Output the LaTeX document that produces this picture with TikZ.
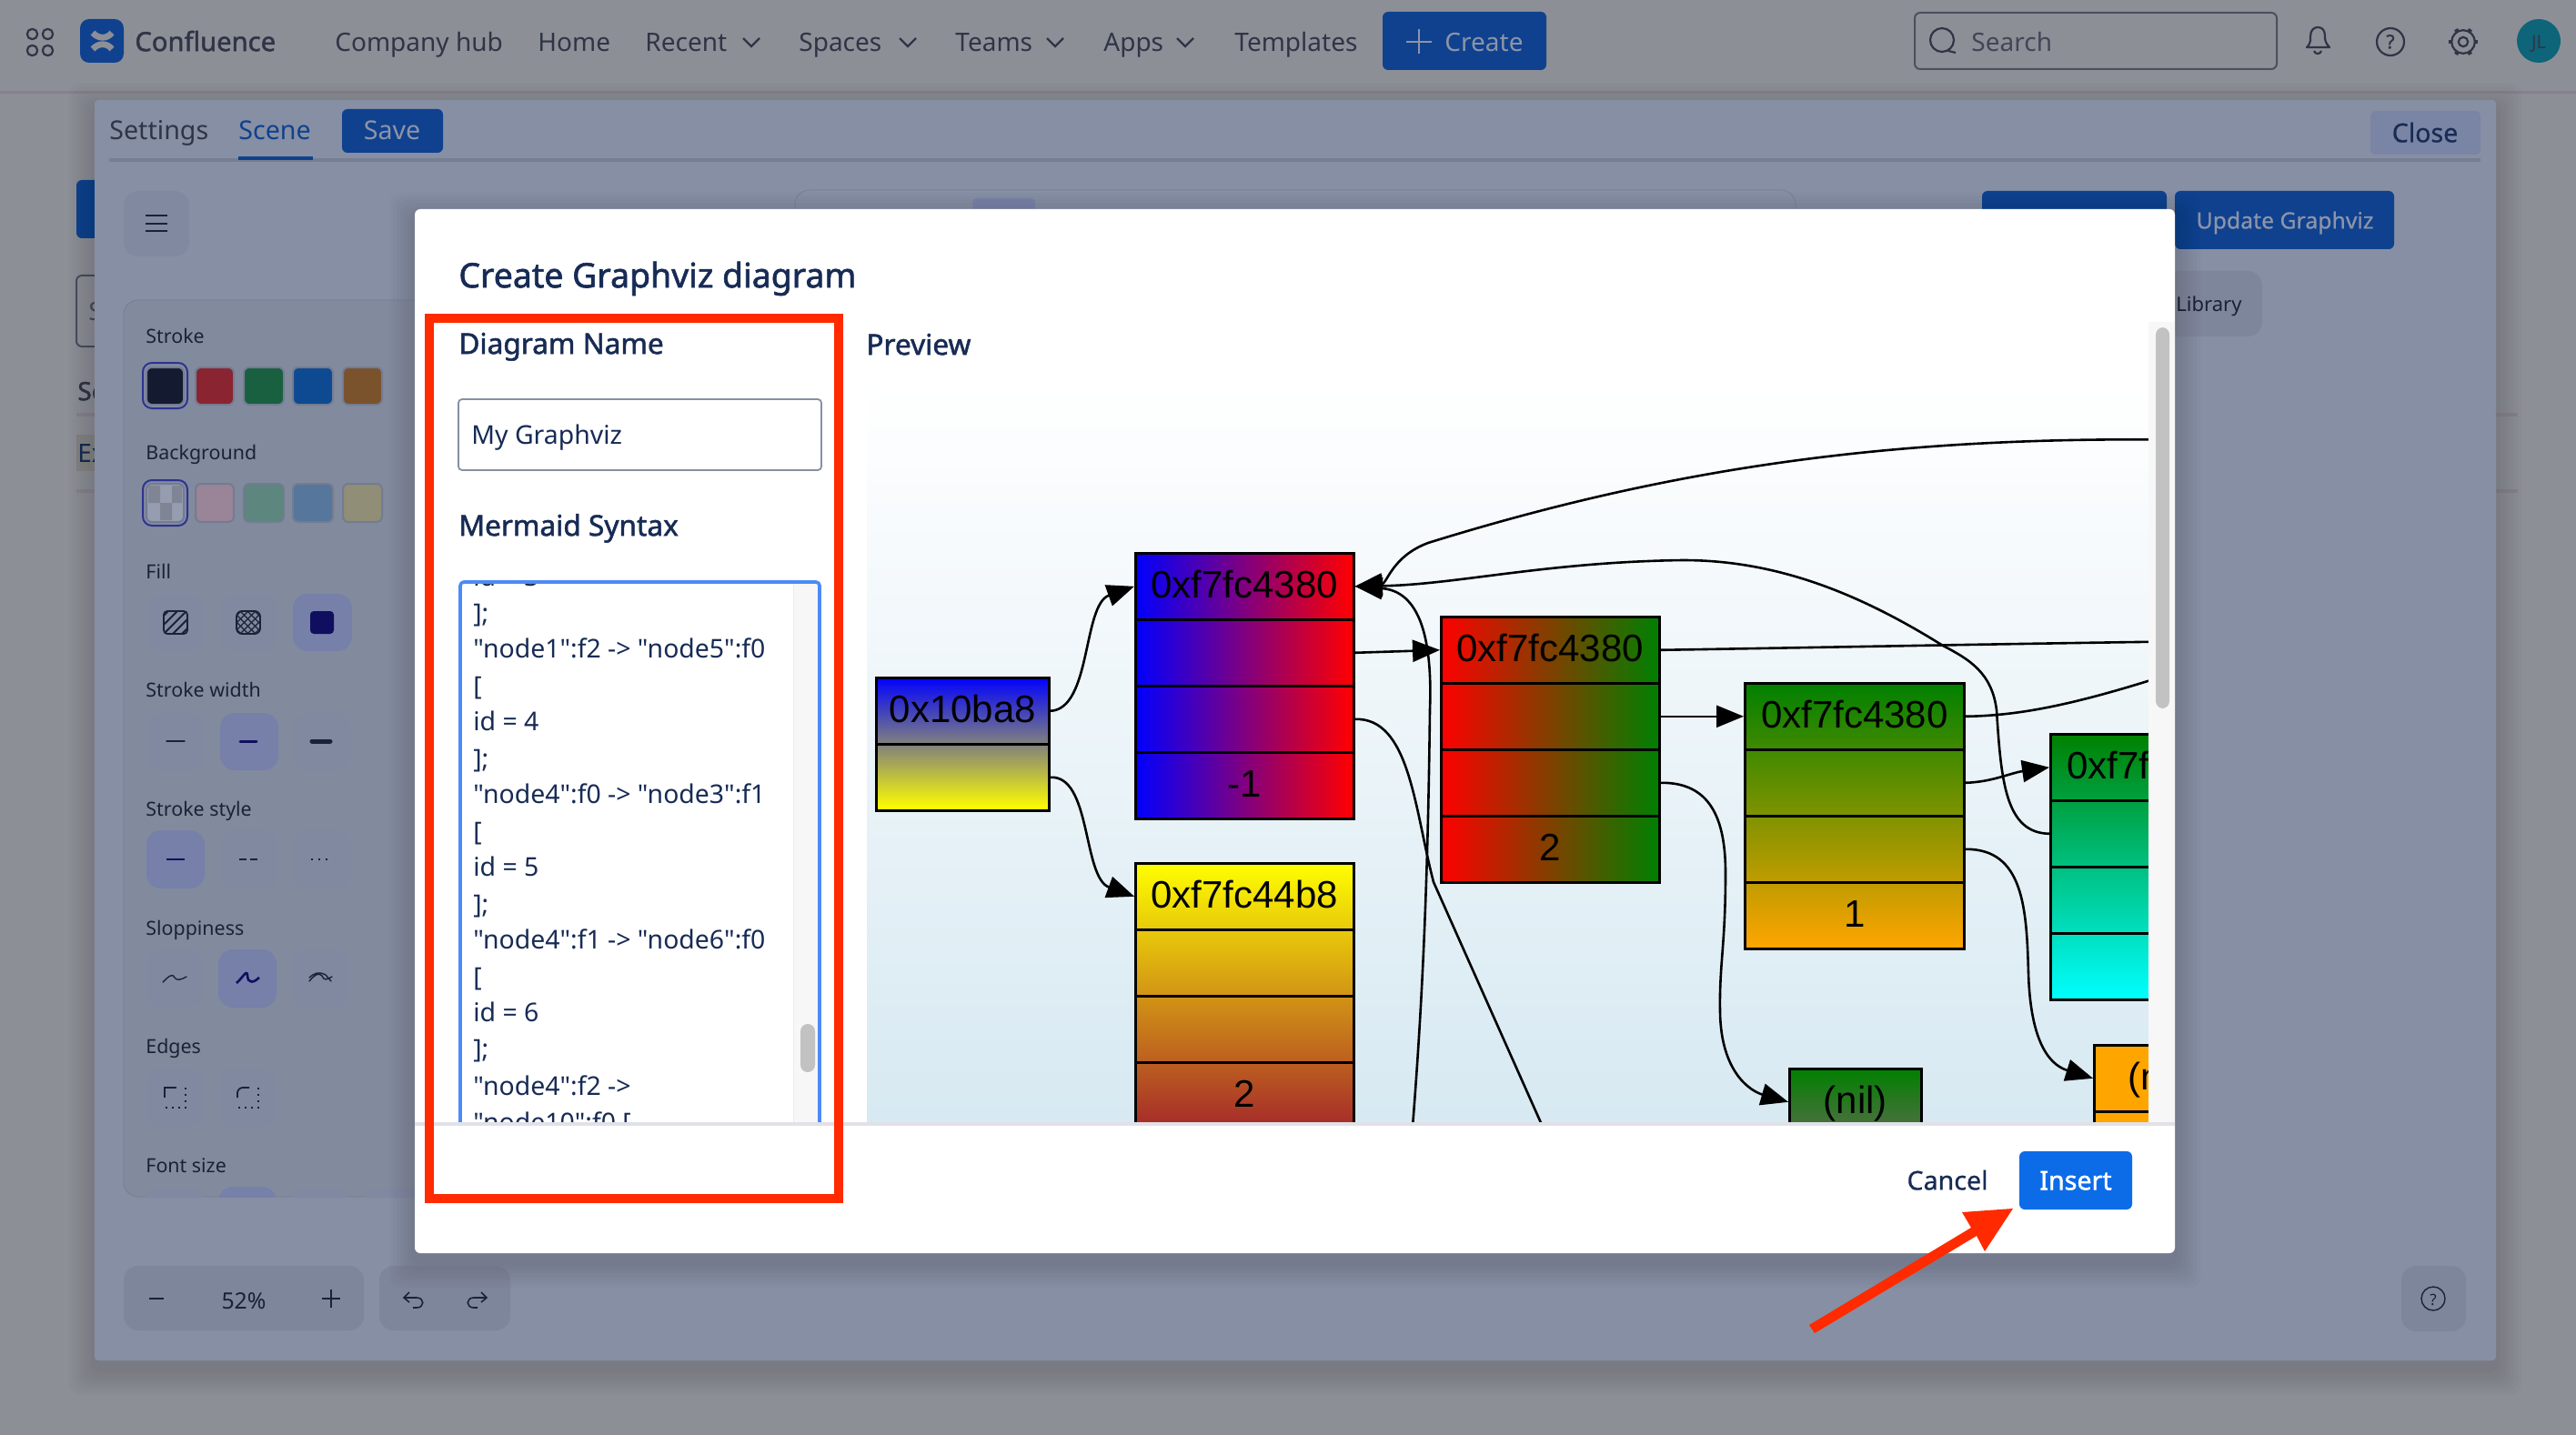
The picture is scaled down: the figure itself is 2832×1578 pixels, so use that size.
\documentclass[tikz,border=0pt]{standalone}
\usepackage{fontspec}
\setmainfont{Noto Sans}
\newfontfamily\gvfont{Liberation Sans}
\newfontfamily\codefont{Noto Sans}
\newfontfamily\hfont[FakeBold=1.6]{Noto Sans}
\newfontfamily\mfont[FakeBold=.6]{Noto Sans}
\usetikzlibrary{arrows.meta}
\definecolor{pagebg}{HTML}{8D8F97}
\definecolor{barline}{HTML}{85818C}
\definecolor{panelbg}{HTML}{868FA3}
\definecolor{btnbg}{HTML}{8089A0}
\definecolor{btnsel}{HTML}{7680A8}
\definecolor{darkbar}{HTML}{7E869B}
\definecolor{dimblue}{HTML}{0F418F}
\definecolor{navtext}{HTML}{2F3546}
\definecolor{paneltext}{HTML}{1B2236}
\definecolor{title}{HTML}{172B55}
\definecolor{redmark}{HTML}{FF2A00}
\definecolor{insertblue}{HTML}{0C6CE8}
\definecolor{focusblue}{HTML}{4C8BF5}
\definecolor{navyicon}{HTML}{100F5F}
\definecolor{selring}{HTML}{2E3390}
\definecolor{swring}{HTML}{737C91}
\definecolor{previewlow}{HTML}{D7E9F2}
\definecolor{dimwhite}{HTML}{8D94A8}
\definecolor{gvgreen}{HTML}{008000}
\definecolor{gvorange}{HTML}{FFA500}
\definecolor{gvbrown}{HTML}{A52A2A}
\definecolor{gvmauve}{HTML}{A85C8C}
\definecolor{avatar}{HTML}{0E6478}
\definecolor{inputline}{HTML}{8590A2}
\definecolor{footerline}{HTML}{E1E1E8}
\definecolor{swa}{HTML}{141A30}
\definecolor{swb}{HTML}{8A2430}
\definecolor{swc}{HTML}{186040}
\definecolor{swd}{HTML}{0E4A92}
\definecolor{swe}{HTML}{7A522C}
\definecolor{swf}{HTML}{969DB0}
\definecolor{swg}{HTML}{9A8498}
\definecolor{swh}{HTML}{5C867E}
\definecolor{swi}{HTML}{56769C}
\definecolor{swj}{HTML}{908E76}
\newcount\lbln
\def\tx#1#2#3#4{\global\advance\lbln by 1 \node[#1] (t\the\lbln) at (#2,#3) {#4};}
\def\rec#1#2#3#4#5#6#7#8{%
  \node[rectangle,inner sep=0pt,minimum width={#4*.5pt},minimum height={#5*73*.5pt},anchor=north west,#6] (#1) at (#2,#3) {};
  \foreach \i in {1,...,#5}{%
    \pgfmathtruncatemacro{\fidx}{\i-1}%
    \pgfmathtruncatemacro{\fy}{#3+\fidx*73}%
    \node[fieldbox,minimum width={#4*.5pt},anchor=north west] (#1-f\fidx) at (#2,\fy) {\ifnum\i=1 #7\else\ifnum\i=#5 #8\fi\fi};
  }}
\def\softshadow#1#2#3#4{%
  \foreach \s in {4,8,...,28}{\fill[black,opacity=.016,rounded corners=6pt] ({#1-\s},{#2-\s+10}) rectangle ({#3+\s},{#4+\s+10});}}
\tikzset{
  x=.5pt,y=-.5pt,
  lab/.style={inner sep=0pt,anchor=mid west,yshift=-2.4pt},
  cen/.style={inner sep=0pt,anchor=mid,yshift=-1pt},
  nav/.style={lab,text=navtext,font=\fontsize{14}{16}\selectfont},
  tool/.style={lab,text=paneltext,yshift=.8pt,font=\fontsize{10.7}{13}\selectfont},
  code/.style={lab,text=title,font=\codefont\fontsize{14.2}{16}\selectfont},
  heading/.style={lab,text=title,font=\hfont\fontsize{15.8}{18}\selectfont},
  btn/.style={fill=btnbg,rounded corners=8pt},
  sel/.style={fill=btnsel,rounded corners=8pt},
  blue/.style={fill=dimblue,rounded corners=3pt},
  chev/.style={draw=navtext,line width=1.1pt},
  icon/.style={draw=paneltext,line width=.9pt,line cap=round},
  fieldbox/.style={rectangle,draw=black,line width=1.3pt,inner sep=0pt,minimum height=36.5pt,text height=13pt,text depth=0pt,font=\gvfont\fontsize{21}{24}\selectfont,text=black},
  edge/.style={draw=black,line width=1.3pt},
  head/.style={edge,-{Triangle[length=15pt,width=12pt]}},
}
\begin{document}
\begin{tikzpicture}
\useasboundingbox (0,0) rectangle (2832,1578);
\fill[pagebg] (0,0) rectangle (2832,1578);
% top bar
\fill[barline] (0,100) rectangle (2832,103);
\foreach \a/\b in {30/32,47/32,30/50,47/50}{\draw[navtext,line width=1.1pt,rounded corners=2.5pt] (\a,\b) rectangle ({\a+11},{\b+11});}
\fill[dimblue,rounded corners=5pt] (88,21) rectangle (136,69);
\draw[pagebg,line width=3.4pt] (102,36) .. controls (108,43) and (118,43) .. (123,36);
\draw[pagebg,line width=3.4pt] (102,54) .. controls (108,47) and (118,47) .. (123,54);
\tx{lab,text=navtext,font=\hfont\fontsize{14.6}{16}\selectfont}{148}{46}{Confluence}
\tx{nav}{368}{46}{Company hub}
\tx{nav}{591}{46}{Home}
\tx{nav}{709}{46}{Recent}
\tx{nav}{878}{46}{Spaces}
\tx{nav}{1050}{46}{Teams}
\tx{nav}{1213}{46}{Apps}
\tx{nav}{1357}{46}{Templates}
\foreach \c in {826,998,1160,1303}{\draw[chev] ({\c-9},42) -- (\c,51) -- ({\c+9},42);}
\fill[blue] (1520,13) rectangle (1700,77);
\draw[dimwhite,line width=1.2pt] (1560,32) -- (1560,59) (1546,46) -- (1574,46);
\tx{lab,text=dimwhite,font=\fontsize{14}{16}\selectfont}{1588}{46}{Create}
\draw[draw=navtext!70!pagebg,line width=1pt,rounded corners=3pt] (2105,14) rectangle (2503,76);
\draw[navtext,line width=1.1pt] (2135,44) circle (6.5pt) (2142,56) -- (2150,58);
\tx{lab,text=navtext!80!pagebg,font=\fontsize{14}{16}\selectfont}{2167}{46}{Search}
\draw[navtext,line width=1.1pt,line join=round] (2536,52) .. controls (2541,47) and (2540,43) .. (2540,40) .. controls (2540,33) and (2544,30) .. (2548,30) .. controls (2553,30) and (2556,33) .. (2556,40) .. controls (2556,43) and (2556,47) .. (2561,52) -- cycle (2544,56) .. controls (2545,60) and (2551,60) .. (2552,56);
\draw[navtext,line width=1.1pt] (2628,46) circle (7.5pt);
\tx{cen,text=navtext,font=\hfont\fontsize{10.5}{12}\selectfont}{2628}{46}{?}
\draw[navtext,line width=1.1pt] (2708,46) circle (2.6pt) (2708,46) circle (6.4pt);
\foreach \an in {0,60,...,300}{\draw[navtext,line width=2.2pt] ({2708+12*cos(\an)},{46+12*sin(\an)}) -- ({2708+16*cos(\an)},{46+16*sin(\an)});}
\fill[avatar] (2791,45) circle (12pt);
\tx{cen,text=navtext,font=\fontsize{10}{12}\selectfont}{2791}{46}{JL}
% fragments of the page behind the panel
\draw[navtext!70!pagebg,line width=1pt,rounded corners=3pt] (84,303) rectangle (120,381);
\tx{lab,text=navtext!70!pagebg,font=\fontsize{14}{16}\selectfont}{97}{342}{S}
\tx{lab,text=navtext,font=\hfont\fontsize{14}{16}\selectfont}{85}{430}{Se}
\fill[barline] (84,454) rectangle (104,458);
\fill[gray!85!pagebg] (84,478) rectangle (104,518);
\tx{lab,text=title,font=\fontsize{14}{16}\selectfont}{85}{498}{Ex}
\fill[barline] (84,538) rectangle (104,542);
\fill[barline] (2744,454) rectangle (2768,458);
\fill[barline] (2744,538) rectangle (2768,542);
\fill[dimblue,rounded corners=3pt] (84,198) rectangle (120,262);
% panel
\softshadow{104}{110}{2744}{1496}
\fill[panelbg,rounded corners=2pt] (104,110) rectangle (2744,1496);
\tx{lab,text=navtext,font=\fontsize{14.3}{16}\selectfont}{120}{143}{Settings}
\tx{lab,text=dimblue,font=\fontsize{14.3}{16}\selectfont}{262}{143}{Scene}
\fill[blue] (376,120) rectangle (487,168);
\tx{cen,text=dimwhite,font=\fontsize{14.3}{16}\selectfont}{431}{146}{Save}
\fill[panelbg!88!black] (120,174) rectangle (2727,178);
\fill[dimblue] (262,172) rectangle (344,176);
\fill[fill=btnsel!60!btnbg,rounded corners=3pt] (2606,122) rectangle (2727,170);
\tx{cen,text=title,font=\mfont\fontsize{14.3}{16}\selectfont}{2666}{149}{Close}
% left tools
\fill[btn] (136,210) rectangle (208,282);
\foreach \yy in {237,246,254}{\draw[paneltext,line width=1pt] (160,\yy) -- (184,\yy);}
\draw[panelbg!92!black,line width=.5pt,rounded corners=8pt] (874,232) -- (874,209) -- (1974,209) -- (1974,232);
\fill[btnsel!90!panelbg,rounded corners=3pt] (1069,218) rectangle (1138,240);
\fill[blue] (2179,210) rectangle (2382,240);
\fill[blue] (2391,210) rectangle (2632,274);
\tx{cen,text=dimwhite,font=\mfont\fontsize{12.4}{14}\selectfont}{2512}{244}{Update Graphviz}
\fill[fill=darkbar,rounded corners=8pt] (2370,298) rectangle (2487,370);
\tx{lab,text=paneltext,font=\fontsize{11}{13}\selectfont}{2392}{332}{Library}
\fill[panelbg!97!black,rounded corners=8pt] (136,330) rectangle (470,1316);
\draw[panelbg!88!black,line width=.4pt,rounded corners=8pt] (136,330) rectangle (470,1316);
\tx{tool}{160}{369}{Stroke}
\tx{tool}{160}{497}{Background}
\tx{tool}{160}{628}{Fill}
\tx{tool}{160}{758}{Stroke width}
\tx{tool}{160}{889}{Stroke style}
\tx{tool}{160}{1020}{Sloppiness}
\tx{tool}{160}{1150}{Edges}
\tx{tool}{160}{1281}{Font size}
% swatches
\draw[selring,line width=1pt,rounded corners=5pt] (157,399) rectangle (206,449);
\foreach \a/\b/\cc in {161/202/swa,215/257/swb,268/312/swc,322/366/swd,377/420/swe}{
  \fill[\cc,rounded corners=3pt,draw=swring,line width=1pt] (\a,404) rectangle (\b,445);}
\draw[selring,line width=1pt,rounded corners=5pt] (157,528) rectangle (206,578);
\foreach \a/\b/\cc in {161/202/swf,215/257/swg,268/312/swh,322/366/swi,377/420/swj}{
  \fill[\cc,rounded corners=3pt,draw=swring,line width=1pt] (\a,532) rectangle (\b,574);}
\fill[swf!85!black] (163,534) rectangle (176,553) (176,553) rectangle (189,572) (189,534) rectangle (200,553);
% fill buttons
\fill[btn] (161,653) rectangle (225,716);
\fill[btn] (242,653) rectangle (306,716);
\fill[sel] (322,653) rectangle (387,716);
\begin{scope}
\clip[rounded corners=2pt] (180,672) rectangle (206,697);
\foreach \d in {-20,-10,...,30}{\draw[icon] ({180+\d},697) -- ({205+\d},672);}
\end{scope}
\draw[icon,rounded corners=2pt] (180,672) rectangle (206,697);
\begin{scope}
\clip[rounded corners=3pt] (260,672) rectangle (286,697);
\foreach \d in {-20,-12,...,30}{\draw[icon,line width=.6pt] ({260+\d},697) -- ({285+\d},672);\draw[icon,line width=.6pt] ({260+\d},672) -- ({285+\d},697);}
\end{scope}
\draw[icon,rounded corners=3pt] (260,672) rectangle (286,697);
\fill[navyicon,rounded corners=2pt] (341,672) rectangle (367,697);
% width, style, sloppiness, edges
\foreach \a/\st in {161/btn,242/sel,322/btn}{\fill[\st] (\a,784) rectangle ({\a+64},847);}
\draw[icon,line width=.6pt] (183,815) -- (203,815);
\draw[navyicon,line width=1.5pt,line cap=round] (264,815) -- (282,815);
\draw[paneltext,line width=2.5pt,line cap=round] (343,815) -- (363,815);
\foreach \a/\st in {161/sel,242/btn,322/btn}{\fill[\st] (\a,913) rectangle ({\a+64},977);}
\draw[navyicon,line width=.7pt] (183,945) -- (203,945);
\draw[paneltext,line width=.9pt,dash pattern=on 4pt off 2pt] (263,945) -- (284,945);
\draw[paneltext,line width=.9pt,dash pattern=on 1pt off 3pt] (342,945) -- (366,945);
\foreach \a/\st in {160/btn,240/sel,320/btn}{\fill[\st] (\a,1044) rectangle ({\a+64},1108);}
\draw[icon,line width=.7pt] (179,1080) .. controls (186,1073) and (190,1070) .. (192,1075) .. controls (194,1079) and (200,1077) .. (205,1074);
\draw[navyicon,line width=1.3pt] (260,1081) .. controls (267,1075) and (271,1066) .. (272,1072) .. controls (272,1083) and (280,1080) .. (285,1075);
\draw[icon,line width=.7pt] (340,1079) .. controls (346,1072) and (350,1069) .. (354,1073) .. controls (356,1079) and (360,1077) .. (365,1074) (340,1075) .. controls (346,1070) and (350,1068) .. (358,1072) -- (364,1079);
\fill[btn] (160,1175) rectangle (224,1239);
\fill[btn] (240,1175) rectangle (304,1239);
\draw[paneltext,line width=.7pt,dash pattern=on 1pt off 2.5pt] (204,1196) -- (204,1218) -- (181,1218);
\draw[paneltext,line width=.9pt] (181,1207) -- (181,1196) -- (194,1196);
\draw[paneltext,line width=.7pt,dash pattern=on 1pt off 2.5pt] (284,1196) -- (284,1218) -- (261,1218);
\draw[paneltext,line width=.9pt,rounded corners=3pt] (261,1207) -- (261,1196) -- (274,1196);
\begin{scope}
\clip (136,1300) rectangle (470,1316);
\foreach \a/\st in {160/btn,240/sel,320/btn,400/btn}{\fill[\st] (\a,1305) rectangle ({\a+64},1370);}
\end{scope}
% zoom bars
\fill[fill=darkbar,rounded corners=8pt] (136,1392) rectangle (400,1463);
\fill[fill=darkbar,rounded corners=8pt] (417,1392) rectangle (561,1463);
\draw[paneltext,line width=1pt] (164,1428) -- (180,1428) (354,1428) -- (374,1428) (364,1418) -- (364,1438);
\tx{cen,text=paneltext,font=\fontsize{12.4}{14}\selectfont}{268}{1432}{52\%}
\draw[paneltext,line width=.8pt] (450,1421) -- (444,1427) -- (450,1432) (444,1427) -- (458,1427) .. controls (467,1427) and (467,1438) .. (458,1438) -- (454,1438);
\draw[paneltext,line width=.8pt] (529,1421) -- (535,1427) -- (529,1432) (535,1427) -- (521,1427) .. controls (512,1427) and (512,1438) .. (521,1438) -- (525,1438);
\fill[fill=darkbar,rounded corners=8pt] (2640,1392) rectangle (2711,1464);
\draw[paneltext,line width=.7pt] (2675,1428) circle (6.5pt);
\tx{cen,text=paneltext,font=\fontsize{8.5}{10}\selectfont}{2675}{1428}{?}
% dialog
\softshadow{456}{230}{2391}{1378}
\fill[white,rounded corners=3pt] (456,230) rectangle (2391,1378);
\tx{lab,text=title,font=\hfont\fontsize{18.7}{22}\selectfont}{504}{306}{Create Graphviz diagram}
\tx{heading}{504}{379}{Diagram Name}
\draw[fill=white,draw=inputline,line width=.9pt,rounded corners=2pt] (504,439) rectangle (903,517);
\tx{code}{518}{478}{My Graphviz}
\tx{heading}{504}{579}{Mermaid Syntax}
\tx{heading}{952}{380}{Preview}
% textarea
\begin{scope}
\clip (500,636) rectangle (906,1234);
\fill[white] (504,639) rectangle (903,1260);
\fill[fill=black!3] (872,640) rectangle (901,1234);
\draw[black!8,line width=.5pt] (872,640) -- (872,1234);
\begin{scope}
\clip (506,642) rectangle (872,1234);
\tx{code}{520}{634}{id = 3}
\tx{code}{520}{674}{];}
\tx{code}{520}{713}{"node1":f2 -> "node5":f0}
\tx{code}{520}{754}{[}
\tx{code}{520}{793}{id = 4}
\tx{code}{520}{834}{];}
\tx{code}{520}{873}{"node4":f0 -> "node3":f1}
\tx{code}{520}{914}{[}
\tx{code}{520}{953}{id = 5}
\tx{code}{520}{994}{];}
\tx{code}{520}{1033}{"node4":f1 -> "node6":f0}
\tx{code}{520}{1074}{[}
\tx{code}{520}{1113}{id = 6}
\tx{code}{520}{1153}{];}
\tx{code}{520}{1194}{"node4":f2 ->}
\tx{code}{520}{1234}{"node10":f0 [}
\end{scope}
\draw[focusblue,line width=1.8pt,rounded corners=2pt] (506,1260) -- (506,640) -- (901,640) -- (901,1260);
\end{scope}
\fill[black!24,rounded corners=4pt] (880,1126) rectangle (896,1179);
% preview
\begin{scope}
\clip (953,420) rectangle (2362,1234);
\fill[top color=white,bottom color=previewlow] (953,420) rectangle (2362,1234);
\rec{na}{962}{744}{190}{2}{top color=blue,bottom color=yellow}{0x10ba8}{}
\rec{nb}{1247}{607}{240}{4}{left color=blue,right color=red}{0xf7fc4380}{-1}
\rec{nc}{1247}{948}{240}{4}{top color=yellow,bottom color=gvbrown}{0xf7fc44b8}{2}
\rec{nd}{1583}{677}{240}{4}{left color=red,right color=gvgreen}{0xf7fc4380}{2}
\rec{ne}{1917}{750}{241}{4}{top color=gvgreen,bottom color=gvorange}{0xf7fc4380}{1}
\rec{nf}{2253}{806}{241}{4}{top color=gvgreen,bottom color=cyan}{0xf7fc4380}{}
\rec{ng}{1966}{1174}{145}{2}{top color=gvgreen,bottom color=gvmauve}{(nil)}{}
\rec{nh}{2301}{1148}{145}{2}{fill=gvorange}{(nil)}{}
\coordinate (offa) at (2420,484);
\coordinate (offb) at (2420,705);
\coordinate (offc) at (2420,730);
\coordinate (offd) at (1550,1275);
\coordinate (offe) at (1712,1275);
\path[head] (na-f0.east) .. controls (1200,780) and (1190,665) .. (nb-f0.west);
\path[head] (na-f1.east) .. controls (1200,852) and (1190,965) .. (nc-f0.west);
\path[head] (nb-f1.east) -- (nd-f0.west);
\path[edge] (nb-f2.east) .. controls (1550,789) and (1555,890) .. (1576,970) -- (offe);
\path[head] (offd) .. controls (1565,1100) and (1570,950) .. (1572,780) .. controls (1575,700) and (1560,650) .. (nb-f0.east);
\path[head] (offa) .. controls (2100,478) and (1850,510) .. (1570,597) .. controls (1530,612) and (1525,642) .. (nb-f0.east);
\path[head] (nf-f1.west) .. controls (2205,916) and (2200,860) .. (2195,781) .. controls (2190,740) and (2165,725) .. (2136,710) .. controls (2040,650) and (1950,616) .. (1850,616) .. controls (1700,618) and (1600,643) .. (nb-f0.east);
\path[edge] (nd-f0.east) .. controls (2000,712) and (2200,708) .. (offb);
\path[head] (nd-f1.east) -- (ne-f0.west);
\path[head] (nd-f2.east) .. controls (1880,860) and (1897,900) .. (1897,960) .. controls (1897,1040) and (1890,1060) .. (1891,1113) .. controls (1892,1180) and (1925,1200) .. (ng-f0.west);
\path[edge] (ne-f0.east) .. controls (2230,787) and (2300,770) .. (offc);
\path[head] (ne-f1.east) .. controls (2190,860) and (2210,850) .. (nf-f0.west);
\path[head] (ne-f2.east) .. controls (2225,933) and (2228,1000) .. (2230,1070) .. controls (2232,1140) and (2250,1170) .. (nh-f0.west);
\end{scope}
% preview scrollbar
\fill[black!3] (2362,354) rectangle (2391,1234);
\fill[black!24,rounded corners=4pt] (2370,360) rectangle (2385,779);
% footer
\fill[footerline] (456,1234) rectangle (2391,1238);
\tx{cen,text=title,font=\mfont\fontsize{14.3}{16}\selectfont}{2141}{1301}{Cancel}
\fill[insertblue,rounded corners=3pt] (2220,1266) rectangle (2344,1330);
\tx{cen,text=white,font=\hfont\fontsize{14.3}{16}\selectfont}{2282}{1301}{Insert}
% red annotations
\draw[redmark,line width=5pt] (472,350) rectangle (922,1318);
\fill[redmark] (1989,1457) -- (2167,1350) -- (2157,1333) -- (2213,1329) -- (2182,1376) -- (2173,1359) -- (1995,1466) -- cycle;
\end{tikzpicture}
\end{document}
